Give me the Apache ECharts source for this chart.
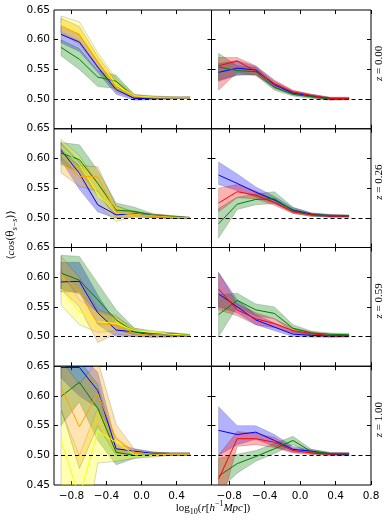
<!DOCTYPE html>
<html>
<head>
<meta charset="utf-8">
<script src="https://cdn.jsdelivr.net/npm/echarts@6/dist/echarts.min.js"></script>
<style>
  html, body { margin: 0; padding: 0; background: #fff; }
  #chart { width: 390px; height: 523px; }
</style>
</head>
<body>
<div id="chart"></div>
<script>
// bin centres in log10(r)
var binCentres = [-0.92, -0.71, -0.50, -0.29, -0.08, 0.13, 0.34, 0.55];
var redshiftLabels = ['0.00', '0.26', '0.59', '1.00'];
var xTicksLeft = [-0.8, -0.4, 0.0, 0.4];
var xTicksRight = [-0.8, -0.4, 0.0, 0.4, 0.8];
var yTicks = [0.50, 0.55, 0.60, 0.65];
var yTicksBottom = [0.45, 0.50, 0.55, 0.60, 0.65];

// every curve is [mean, lower, upper]
// z = 0.00
var z000Blue   = [[0.609, 0.596, 0.554, 0.516, 0.501, 0.501, 0.501, 0.502], [0.595, 0.580, 0.545, 0.508, 0.498, 0.499, 0.500, 0.501], [0.622, 0.610, 0.565, 0.522, 0.504, 0.503, 0.503, 0.503]];
var z000Green  = [[0.587, 0.567, 0.537, 0.530, 0.503, 0.502, 0.502, 0.503], [0.573, 0.550, 0.521, 0.518, 0.500, 0.500, 0.501, 0.502], [0.600, 0.585, 0.548, 0.540, 0.507, 0.504, 0.503, 0.504]];
var z000Yellow = [[0.627, 0.612, 0.567, 0.524, 0.505, 0.503, 0.502, 0.502], [0.613, 0.598, 0.556, 0.515, 0.501, 0.501, 0.501, 0.501], [0.640, 0.630, 0.578, 0.534, 0.508, 0.505, 0.504, 0.503]];
var z000Orange = [[0.624, 0.608, 0.562, 0.520, 0.504, 0.502, 0.502, 0.502], [0.610, 0.593, 0.552, 0.512, 0.501, 0.500, 0.500, 0.501], [0.636, 0.622, 0.572, 0.530, 0.507, 0.505, 0.504, 0.503]];
var z000Red    = [[0.556, 0.564, 0.547, 0.526, 0.512, 0.506, 0.501, 0.501], [0.515, 0.545, 0.540, 0.520, 0.508, 0.503, 0.499, 0.500], [0.570, 0.570, 0.556, 0.532, 0.515, 0.508, 0.503, 0.503]];
var z000BlueR  = [[0.545, 0.552, 0.549, 0.524, 0.510, 0.505, 0.501, 0.501], [0.530, 0.540, 0.542, 0.518, 0.507, 0.503, 0.499, 0.499], [0.560, 0.565, 0.555, 0.530, 0.514, 0.508, 0.503, 0.503]];
var z000GreenR = [[0.554, 0.548, 0.546, 0.520, 0.508, 0.504, 0.500, 0.500], [0.532, 0.541, 0.540, 0.515, 0.505, 0.501, 0.498, 0.499], [0.577, 0.556, 0.553, 0.526, 0.512, 0.506, 0.502, 0.501]];
// z = 0.26
var z026Blue   = [[0.614, 0.575, 0.522, 0.505, 0.507, 0.503, 0.501, 0.500], [0.597, 0.548, 0.510, 0.499, 0.503, 0.501, 0.499, 0.499], [0.627, 0.595, 0.535, 0.511, 0.511, 0.506, 0.503, 0.501]];
var z026Green  = [[0.609, 0.598, 0.558, 0.513, 0.511, 0.504, 0.502, 0.500], [0.590, 0.578, 0.538, 0.505, 0.506, 0.501, 0.500, 0.499], [0.627, 0.623, 0.580, 0.525, 0.518, 0.507, 0.504, 0.501]];
var z026Yellow = [[0.620, 0.590, 0.540, 0.508, 0.506, 0.503, 0.501, 0.500], [0.603, 0.570, 0.522, 0.494, 0.502, 0.500, 0.499, 0.499], [0.632, 0.605, 0.558, 0.520, 0.510, 0.506, 0.503, 0.501]];
var z026Orange = [[0.593, 0.570, 0.569, 0.509, 0.505, 0.503, 0.501, 0.500], [0.576, 0.553, 0.545, 0.500, 0.501, 0.500, 0.499, 0.499], [0.610, 0.588, 0.586, 0.520, 0.509, 0.506, 0.503, 0.501]];
var z026Red    = [[0.525, 0.544, 0.538, 0.526, 0.510, 0.505, 0.503, 0.503], [0.510, 0.534, 0.532, 0.521, 0.507, 0.503, 0.501, 0.501], [0.550, 0.556, 0.545, 0.531, 0.514, 0.507, 0.505, 0.504]];
var z026BlueR  = [[0.572, 0.558, 0.543, 0.530, 0.513, 0.506, 0.503, 0.503], [0.556, 0.546, 0.535, 0.524, 0.510, 0.504, 0.501, 0.501], [0.594, 0.574, 0.552, 0.536, 0.517, 0.508, 0.505, 0.504]];
var z026GreenR = [[0.490, 0.523, 0.531, 0.532, 0.512, 0.505, 0.504, 0.503], [0.466, 0.514, 0.522, 0.524, 0.508, 0.502, 0.502, 0.502], [0.516, 0.535, 0.540, 0.544, 0.518, 0.508, 0.506, 0.505]];
// z = 0.59
var z059Blue   = [[0.592, 0.593, 0.540, 0.511, 0.508, 0.502, 0.501, 0.501], [0.575, 0.575, 0.520, 0.500, 0.500, 0.499, 0.500, 0.500], [0.625, 0.625, 0.570, 0.522, 0.512, 0.505, 0.503, 0.502]];
var z059Green  = [[0.607, 0.595, 0.562, 0.528, 0.508, 0.505, 0.505, 0.502], [0.580, 0.572, 0.540, 0.512, 0.503, 0.502, 0.502, 0.500], [0.637, 0.635, 0.590, 0.545, 0.514, 0.508, 0.507, 0.504]];
var z059Yellow = [[0.580, 0.542, 0.525, 0.522, 0.510, 0.507, 0.504, 0.502], [0.553, 0.520, 0.507, 0.510, 0.505, 0.503, 0.502, 0.500], [0.610, 0.562, 0.542, 0.532, 0.514, 0.510, 0.506, 0.503]];
var z059Orange = [[0.606, 0.576, 0.522, 0.520, 0.505, 0.502, 0.501, 0.501], [0.580, 0.550, 0.490, 0.505, 0.500, 0.499, 0.499, 0.500], [0.635, 0.600, 0.545, 0.535, 0.510, 0.505, 0.503, 0.502]];
var z059Red    = [[0.580, 0.545, 0.530, 0.522, 0.510, 0.505, 0.501, 0.501], [0.545, 0.535, 0.520, 0.515, 0.506, 0.502, 0.499, 0.499], [0.608, 0.555, 0.540, 0.530, 0.514, 0.508, 0.503, 0.503]];
var z059BlueR  = [[0.572, 0.550, 0.528, 0.516, 0.504, 0.502, 0.501, 0.501], [0.550, 0.540, 0.520, 0.510, 0.500, 0.499, 0.499, 0.500], [0.608, 0.562, 0.537, 0.523, 0.508, 0.505, 0.503, 0.502]];
var z059GreenR = [[0.537, 0.561, 0.545, 0.539, 0.514, 0.506, 0.504, 0.503], [0.500, 0.550, 0.535, 0.530, 0.508, 0.503, 0.502, 0.501], [0.570, 0.573, 0.555, 0.550, 0.520, 0.509, 0.506, 0.505]];
// z = 1.00
var z100Blue   = [[0.648, 0.648, 0.609, 0.511, 0.507, 0.503, 0.502, 0.502], [0.630, 0.600, 0.580, 0.503, 0.502, 0.500, 0.500, 0.500], [0.670, 0.670, 0.640, 0.520, 0.511, 0.506, 0.504, 0.504]];
var z100Green  = [[0.599, 0.623, 0.579, 0.505, 0.500, 0.502, 0.502, 0.502], [0.550, 0.590, 0.525, 0.484, 0.495, 0.499, 0.500, 0.500], [0.660, 0.660, 0.620, 0.512, 0.505, 0.505, 0.504, 0.504]];
var z100Yellow = [[0.525, 0.430, 0.541, 0.522, 0.501, 0.500, 0.502, 0.502], [0.440, 0.300, 0.487, 0.490, 0.495, 0.497, 0.500, 0.500], [0.575, 0.500, 0.580, 0.530, 0.505, 0.503, 0.504, 0.504]];
var z100Orange = [[0.615, 0.548, 0.604, 0.528, 0.505, 0.502, 0.502, 0.502], [0.580, 0.478, 0.550, 0.500, 0.500, 0.499, 0.500, 0.500], [0.660, 0.620, 0.660, 0.552, 0.510, 0.505, 0.504, 0.504]];
var z100Red    = [[0.460, 0.528, 0.528, 0.522, 0.508, 0.504, 0.502, 0.503], [0.400, 0.515, 0.518, 0.513, 0.504, 0.501, 0.500, 0.501], [0.500, 0.540, 0.537, 0.530, 0.512, 0.507, 0.504, 0.505]];
var z100BlueR  = [[0.542, 0.535, 0.539, 0.525, 0.510, 0.507, 0.502, 0.501], [0.500, 0.518, 0.527, 0.515, 0.505, 0.503, 0.500, 0.499], [0.582, 0.550, 0.550, 0.535, 0.515, 0.510, 0.504, 0.503]];
var z100GreenR = [[0.465, 0.486, 0.498, 0.511, 0.525, 0.506, 0.503, 0.502], [0.440, 0.470, 0.490, 0.503, 0.518, 0.502, 0.501, 0.500], [0.495, 0.502, 0.508, 0.520, 0.532, 0.510, 0.505, 0.504]];

var BLUE = '#0000ff', GREEN = '#008000', RED = '#ff0000', YELLOW = '#ffff00', ORANGE = '#ffa500';

// rows of panels, in drawing order
var leftPanels = [
  [[BLUE, z000Blue], [GREEN, z000Green], [YELLOW, z000Yellow], [ORANGE, z000Orange]],
  [[BLUE, z026Blue], [GREEN, z026Green], [YELLOW, z026Yellow], [ORANGE, z026Orange]],
  [[BLUE, z059Blue], [GREEN, z059Green], [YELLOW, z059Yellow], [ORANGE, z059Orange]],
  [[BLUE, z100Blue], [GREEN, z100Green], [YELLOW, z100Yellow], [ORANGE, z100Orange]]
];
var rightPanels = [
  [[BLUE, z000BlueR], [GREEN, z000GreenR], [RED, z000Red]],
  [[BLUE, z026BlueR], [GREEN, z026GreenR], [RED, z026Red]],
  [[BLUE, z059BlueR], [GREEN, z059GreenR], [RED, z059Red]],
  [[BLUE, z100BlueR], [GREEN, z100GreenR], [RED, z100Red]]
];

var chart = echarts.init(document.getElementById('chart'));

var gridTop = 10, panelH = 118.75, leftX = 54, midX = 211.5, rightX = 371;
var tickFont = { fontFamily: 'DejaVu Sans', fontSize: 10.5, color: '#000' };

function fmtX(v) { return (v < 0 ? '\u2212' : '') + Math.abs(v).toFixed(1); }
function rgba(hex, a) {
  var n = parseInt(hex.slice(1), 16);
  return 'rgba(' + (n >> 16) + ',' + ((n >> 8) & 255) + ',' + (n & 255) + ',' + a + ')';
}

// shaded band between lower and upper, drawn as one polygon
function bandRenderer(color) {
  return function (params, api) {
    if (params.dataIndexInside !== 0) return null;
    var n = params.dataInsideLength, upper = [], lower = [];
    for (var i = 0; i < n; i++) {
      upper.push(api.coord([api.value(0, i), api.value(2, i)]));
      lower.unshift(api.coord([api.value(0, i), api.value(1, i)]));
    }
    var cs = params.coordSys;
    return {
      type: 'polygon',
      shape: { points: upper.concat(lower) },
      style: { fill: rgba(color, 0.3), stroke: 'rgba(0,0,0,0.2)', lineWidth: 0.8 },
      clipPath: { type: 'rect', shape: { x: cs.x, y: cs.y, width: cs.width, height: cs.height } },
      silent: true
    };
  };
}

var grids = [], xAxes = [], yAxes = [], series = [];

for (var row = 0; row < 4; row++) {
  for (var col = 0; col < 2; col++) {
    var g = row * 2 + col;
    grids.push({
      left: col === 0 ? leftX : midX,
      top: gridTop + row * panelH,
      width: col === 0 ? midX - leftX : rightX - midX,
      height: panelH,
      show: true, borderColor: '#000', borderWidth: 1, backgroundColor: 'transparent'
    });
    var xt = col === 0 ? xTicksLeft : xTicksRight;
    var yt = row === 3 ? yTicksBottom : yTicks;
    var tick = { show: true, inside: true, length: 4, lineStyle: { color: '#000', width: 1 } };
    var noLine = { show: false, onZero: false };
    xAxes.push({
      type: 'value', gridIndex: g, min: -1.0, max: 0.8, position: 'bottom',
      axisLine: noLine, splitLine: { show: false },
      axisTick: Object.assign({ customValues: xt }, tick),
      axisLabel: Object.assign({ show: row === 3, customValues: xt, margin: 6, formatter: fmtX }, tickFont)
    });
    xAxes.push({
      type: 'value', gridIndex: g, min: -1.0, max: 0.8, position: 'top',
      axisLine: noLine, splitLine: { show: false },
      axisTick: Object.assign({ customValues: xt }, tick),
      axisLabel: { show: false }
    });
    yAxes.push({
      type: 'value', gridIndex: g, min: 0.45, max: 0.65, position: 'left',
      axisLine: noLine, splitLine: { show: false },
      axisTick: Object.assign({ customValues: [0.50, 0.55, 0.60] }, tick),
      axisLabel: Object.assign({ show: col === 0, customValues: yt, margin: 4,
        formatter: function (v) { return v.toFixed(2); } }, tickFont)
    });
    yAxes.push({
      type: 'value', gridIndex: g, min: 0.45, max: 0.65, position: 'right',
      axisLine: noLine, splitLine: { show: false },
      axisTick: Object.assign({ customValues: [0.50, 0.55, 0.60] }, tick),
      axisLabel: { show: false }
    });

    var curves = col === 0 ? leftPanels[row] : rightPanels[row];
    curves.forEach(function (c) {
      var color = c[0], mean = c[1][0], lo = c[1][1], hi = c[1][2];
      series.push({
        type: 'custom', xAxisIndex: 2 * g, yAxisIndex: 2 * g,
        data: binCentres.map(function (x, i) { return [x, lo[i], hi[i]]; }),
        encode: { x: 0, y: [1, 2] },
        renderItem: bandRenderer(color), silent: true
      });
      series.push({
        type: 'line', xAxisIndex: 2 * g, yAxisIndex: 2 * g,
        data: binCentres.map(function (x, i) { return [x, mean[i]]; }),
        symbol: 'none', lineStyle: { color: color, width: 1 }, silent: true
      });
    });
    // dashed reference line at 0.5
    series[series.length - 1].markLine = {
      silent: true, symbol: 'none', label: { show: false },
      lineStyle: { color: '#000', type: [4, 3], width: 1 },
      data: [{ yAxis: 0.5 }]
    };
  }
}

var graphics = redshiftLabels.map(function (z, row) {
  return {
    type: 'text', x: 379, y: gridTop + row * panelH + panelH / 2 - 6, rotation: Math.PI / 2,
    style: {
      text: '{i|z} = ' + z, fontFamily: 'Liberation Serif', fontSize: 11, fill: '#000',
      align: 'center', verticalAlign: 'middle',
      rich: { i: { fontStyle: 'italic', fontFamily: 'Liberation Serif', fontSize: 11 } }
    }
  };
});
graphics.push({
  type: 'text', x: 11, y: 235, rotation: Math.PI / 2,
  style: {
    text: '\u27e8{i|cos}(\u03b8{sub|s\u2212s})\u27e9',
    fontFamily: 'DejaVu Serif', fontSize: 10.5, fill: '#000', align: 'center', verticalAlign: 'middle',
    lineHeight: 16,
    rich: {
      i: { fontStyle: 'italic', fontFamily: 'Liberation Serif', fontSize: 11, lineHeight: 16 },
      sub: { fontStyle: 'italic', fontFamily: 'Liberation Serif', fontSize: 8, verticalAlign: 'bottom', lineHeight: 10 }
    }
  }
});
graphics.push({
  type: 'text', x: 213, y: 508,
  style: {
    text: 'log{sub|10}({i|r}[{i|h}{sup|\u22121}{i|Mpc}])',
    fontFamily: 'Liberation Serif', fontSize: 11, fill: '#000', align: 'center', verticalAlign: 'middle',
    lineHeight: 16,
    rich: {
      i: { fontStyle: 'italic', fontFamily: 'Liberation Serif', fontSize: 11, lineHeight: 16 },
      sub: { fontFamily: 'Liberation Serif', fontSize: 8, verticalAlign: 'bottom', lineHeight: 10 },
      sup: { fontFamily: 'Liberation Serif', fontSize: 8, verticalAlign: 'top', lineHeight: 10 }
    }
  }
});

chart.setOption({
  animation: false,
  backgroundColor: '#fff',
  grid: grids,
  xAxis: xAxes,
  yAxis: yAxes,
  series: series,
  graphic: graphics
});
</script>
</body>
</html>
